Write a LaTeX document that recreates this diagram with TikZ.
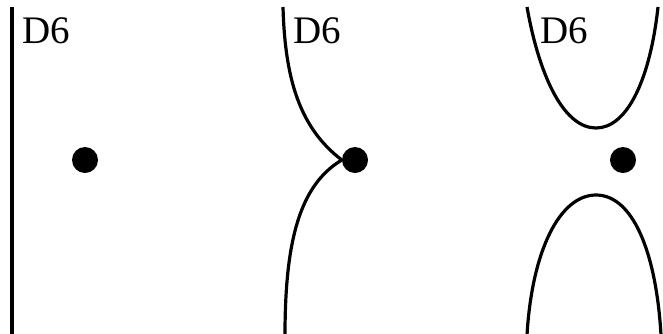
\documentclass[tikz,border=0pt]{standalone}
\usepackage{fontspec}
\setmainfont{Liberation Serif}
\begin{document}
\begin{tikzpicture}[x=1pt,y=-1pt,
  dotnode/.style={circle,fill=black,draw=none,minimum size=26pt,inner sep=0pt},
  lbl/.style={anchor=base west,inner sep=0pt,font=\fontsize{39}{39}\selectfont},
  curve/.style={line width=3.2pt}]
\useasboundingbox (0,0) rectangle (663,333);
% panel 1
\coordinate (a1) at (12,7);
\coordinate (b1) at (12,335);
\draw[curve] (a1) -- (b1);
\node[lbl] (t1) at (22,43) {D6};
\node[dotnode] (d1) at (85,160) {};
% panel 2
\node[lbl] (t2) at (293,43) {D6};
\node[dotnode] (d2) at (355,160) {};
\coordinate (a2) at (283,7);
\coordinate (b2) at (285,335);
\draw[curve] (a2) .. controls (285,80) and (300,128) .. (d2.west);
\draw[curve] (d2.west) .. controls (300,185) and (285,240) .. (b2);
% panel 3
\node[lbl] (t3) at (540,43) {D6};
\node[dotnode] (d3) at (623,160) {};
\coordinate (a3) at (527,7);
\coordinate (m3) at (596,128);
\coordinate (c3) at (658,7);
\coordinate (p3) at (527,335);
\coordinate (n3) at (596,195);
\coordinate (q3) at (661,335);
\draw[curve] (a3) .. controls (540,80) and (565,128) .. (m3) .. controls (627,128) and (650,80) .. (c3);
\draw[curve] (p3) .. controls (532,250) and (560,195) .. (n3) .. controls (632,195) and (656,250) .. (q3);
\end{tikzpicture}
\end{document}
